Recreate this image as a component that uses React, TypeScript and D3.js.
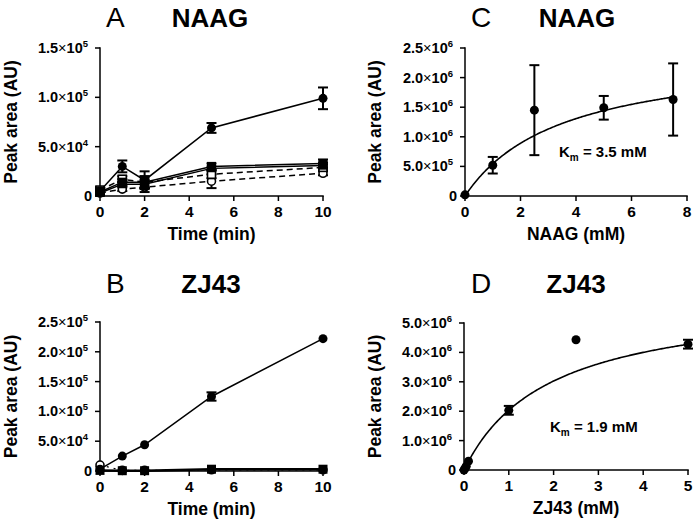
import React from 'react';
import * as d3 from 'd3';

const FONT = "'Liberation Sans', Arial, Helvetica, sans-serif";

// Panel A (NAAG time course)
const timeA = [0, 1, 2, 5, 10];
const aFilledCircle = [5000, 30000, 16000, 69000, 99000];
const aFilledCircleErr = [3000, 6000, 9000, 5000, 11000];
const aFilledSquare = [4000, 14000, 14000, 30000, 33000];
const aFilledSquareErr = [3000, 3000, 6000, 3000, 4000];
const aFilledTriangle = [3000, 12000, 12000, 28000, 31000];
const aFilledTriangleErr = [2000, 2000, 4000, 2000, 3000];
const aOpenSquare = [6000, 17000, 14000, 22000, 29000];
const aOpenSquareErr = [3000, 3000, 6000, 4000, 3000];
const aOpenCircle = [3000, 7000, 9000, 15000, 23000];
const aOpenCircleErr = [2000, 2000, 5000, 7000, 2000];
const aYTicks = [0, 50000, 100000, 150000];
const timeTicks = [0, 2, 4, 6, 8, 10];

// Panel B (ZJ43 time course)
const timeB = [0, 1, 2, 5, 10];
const bFilledCircle = [3000, 25000, 44000, 125000, 222000];
const bFilledCircleErr = [0, 0, 0, 7000, 0];
const bFilledSquare = [1000, 500, 500, 3000, 3000];
const bOpenCircle = [10000, 1000, 1000, 2000, 2000];
const bYTicks = [0, 50000, 100000, 150000, 200000, 250000];

// Panel C (NAAG concentration)
const concC = [0, 1, 2.5, 5, 7.5];
const valC = [20000, 520000, 1450000, 1490000, 1630000];
const errC = [0, 140000, 760000, 200000, 610000];
const kmC = 3.5;
const vmaxC = 2450000;
const cXTicks = [0, 2, 4, 6, 8];
const cYTicks = [0, 500000, 1000000, 1500000, 2000000, 2500000];

// Panel D (ZJ43 concentration)
const concD = [0, 0.025, 0.05, 0.1, 1, 2.5, 5];
const valD = [0, 60000, 130000, 300000, 2030000, 4430000, 4280000];
const errD = [0, 0, 0, 0, 150000, 0, 150000];
const kmD = 1.9;
const vmaxD = 5900000;
const dXTicks = [0, 1, 2, 3, 4, 5];
const dYTicks = [0, 1000000, 2000000, 3000000, 4000000, 5000000];

type Series = {
  xs: number[];
  ys: number[];
  errs?: number[];
  marker: 'fc' | 'fs' | 'ft' | 'os' | 'oc';
  dash?: string;
  lw?: number;
};

function sciParts(v: number) {
  if (v === 0) return { m: '0', e: '' };
  const e = Math.floor(Math.log10(v) + 1e-9);
  const m = (v / Math.pow(10, e)).toFixed(1);
  return { m, e: String(e) };
}

function Marker({ type, cx, cy }: { type: string; cx: number; cy: number }) {
  if (type === 'fc') return <circle cx={cx} cy={cy} r={4.5} fill="#000" />;
  if (type === 'fs') return <rect x={cx - 4.5} y={cy - 4.5} width={9} height={9} fill="#000" />;
  if (type === 'ft')
    return <path d={`M${cx},${cy - 5}L${cx + 5},${cy + 4}L${cx - 5},${cy + 4}Z`} fill="#000" />;
  if (type === 'os')
    return <rect x={cx - 4} y={cy - 4} width={8} height={8} fill="#fff" stroke="#000" strokeWidth={1.6} />;
  return <circle cx={cx} cy={cy} r={4} fill="#fff" stroke="#000" strokeWidth={1.6} />;
}

type PanelProps = {
  letter: string;
  name: string;
  titleY: number;
  letterX: number;
  nameX: number;
  xRange: [number, number];
  yRange: [number, number];
  xDomain: [number, number];
  yDomain: [number, number];
  xTicks: number[];
  yTicks: number[];
  xTitle: string;
  yTitleX: number;
  series: Series[];
  fit?: { km: number; vmax: number; xmax: number };
  km?: { x: number; y: number; text: string };
};

function Panel(p: PanelProps) {
  const x = d3.scaleLinear().domain(p.xDomain).range(p.xRange);
  const y = d3.scaleLinear().domain(p.yDomain).range(p.yRange);
  const x0 = p.xRange[0];
  const y0 = p.yRange[0];
  const line = d3
    .line<[number, number]>()
    .x((d) => x(d[0]))
    .y((d) => y(d[1]));
  let fitPath = '';
  if (p.fit) {
    const f = p.fit;
    const pts: [number, number][] = d3
      .range(0, f.xmax + 1e-9, f.xmax / 200)
      .map((c) => [c, (f.vmax * c) / (f.km + c)]);
    fitPath = line(pts) || '';
  }
  const yMid = (p.yRange[0] + p.yRange[1]) / 2;
  return (
    <g fontFamily={FONT}>
      <text x={p.letterX} y={p.titleY} fontSize={28} fontWeight="normal">
        {p.letter}
      </text>
      <text x={p.nameX} y={p.titleY} fontSize={26} fontWeight="bold" textAnchor="middle">
        {p.name}
      </text>
      {/* axes */}
      <line x1={x0} x2={x0} y1={p.yRange[1] - 0.75} y2={y0 + 0.75} stroke="#000" strokeWidth={1.5} />
      <line x1={x0 - 0.75} x2={p.xRange[1] + 0.75} y1={y0} y2={y0} stroke="#000" strokeWidth={1.5} />
      {p.yTicks.map((t) => {
        const s = sciParts(t);
        return (
          <g key={'y' + t}>
            <line x1={x0 - 5} x2={x0} y1={y(t)} y2={y(t)} stroke="#000" strokeWidth={1.5} />
            <text
              x={s.e === '' ? x0 - 8 : x0 - 12}
              y={y(t) + 5}
              fontSize={14.5}
              fontWeight="bold"
              textAnchor="end"
            >
              {s.e === '' ? (
                s.m
              ) : (
                <>
                  {s.m}
                  <tspan fontWeight="normal">×</tspan>
                  10
                  <tspan dy={-6} fontSize={9.5}>
                    {s.e}
                  </tspan>
                </>
              )}
            </text>
          </g>
        );
      })}
      {p.xTicks.map((t) => (
        <g key={'x' + t}>
          <line x1={x(t)} x2={x(t)} y1={y0} y2={y0 + 5} stroke="#000" strokeWidth={1.5} />
          <text x={x(t)} y={y0 + 21} fontSize={15.5} fontWeight="bold" textAnchor="middle">
            {t}
          </text>
        </g>
      ))}
      <text
        x={(p.xRange[0] + p.xRange[1]) / 2}
        y={y0 + 44}
        fontSize={17.5}
        fontWeight="bold"
        textAnchor="middle"
      >
        {p.xTitle}
      </text>
      <text
        transform={`translate(${p.yTitleX},${yMid}) rotate(-90)`}
        fontSize={17.5}
        fontWeight="bold"
        textAnchor="middle"
      >
        Peak area (AU)
      </text>
      {fitPath && <path d={fitPath} fill="none" stroke="#000" strokeWidth={1.6} />}
      {p.series.map((s, i) => {
        const pts: [number, number][] = s.xs.map((xx, j) => [xx, s.ys[j]]);
        return (
          <g key={'s' + i}>
            {!p.fit && (
              <path
                d={line(pts) || ''}
                fill="none"
                stroke="#000"
                strokeWidth={s.lw ?? 1.5}
                strokeDasharray={s.dash}
              />
            )}
            {s.errs &&
              s.xs.map((xx, j) => {
                const e = s.errs![j];
                if (!e) return null;
                const cx = x(xx);
                const top = y(s.ys[j] + e);
                const bot = y(Math.max(0, s.ys[j] - e));
                return (
                  <g key={'e' + j} stroke="#000" strokeWidth={2}>
                    <line x1={cx} x2={cx} y1={top} y2={bot} />
                    <line x1={cx - 5} x2={cx + 5} y1={top} y2={top} />
                    <line x1={cx - 5} x2={cx + 5} y1={bot} y2={bot} />
                  </g>
                );
              })}
            {pts.map((d, j) => (
              <Marker key={'m' + j} type={s.marker} cx={x(d[0])} cy={y(d[1])} />
            ))}
          </g>
        );
      })}
      {p.km && (
        <text x={p.km.x} y={p.km.y} fontSize={15} fontWeight="bold">
          K
          <tspan dy={4} fontSize={10}>
            m
          </tspan>
          <tspan dy={-4}>{p.km.text}</tspan>
        </text>
      )}
    </g>
  );
}

export default function App() {
  const seriesA: Series[] = [
    { xs: timeA, ys: aOpenCircle, errs: aOpenCircleErr, marker: 'oc', dash: '6,4' },
    { xs: timeA, ys: aOpenSquare, errs: aOpenSquareErr, marker: 'os', dash: '6,4' },
    { xs: timeA, ys: aFilledTriangle, errs: aFilledTriangleErr, marker: 'ft' },
    { xs: timeA, ys: aFilledSquare, errs: aFilledSquareErr, marker: 'fs' },
    { xs: timeA, ys: aFilledCircle, errs: aFilledCircleErr, marker: 'fc' },
  ];
  const seriesB: Series[] = [
    { xs: timeB, ys: bOpenCircle, marker: 'oc', dash: '2,5', lw: 1.2 },
    { xs: timeB, ys: bFilledSquare, marker: 'fs', lw: 2.5 },
    { xs: timeB, ys: bFilledCircle, errs: bFilledCircleErr, marker: 'fc' },
  ];
  const seriesC: Series[] = [{ xs: concC, ys: valC, errs: errC, marker: 'fc' }];
  const seriesD: Series[] = [{ xs: concD, ys: valD, errs: errD, marker: 'fc' }];

  return (
    <svg
      width={693}
      height={522}
      style={{ position: 'absolute', left: 0, top: 0, background: '#fff' }}
    >
      <rect width={693} height={522} fill="#fff" />
      <Panel
        letter="A"
        name="NAAG"
        titleY={27}
        letterX={106}
        nameX={210}
        xRange={[100, 323]}
        yRange={[196, 48]}
        xDomain={[0, 10]}
        yDomain={[0, 150000]}
        xTicks={timeTicks}
        yTicks={aYTicks}
        xTitle="Time (min)"
        yTitleX={17}
        series={seriesA}
      />
      <Panel
        letter="B"
        name="ZJ43"
        titleY={293}
        letterX={106}
        nameX={211}
        xRange={[100, 323]}
        yRange={[471, 322]}
        xDomain={[0, 10]}
        yDomain={[0, 250000]}
        xTicks={timeTicks}
        yTicks={bYTicks}
        xTitle="Time (min)"
        yTitleX={17}
        series={seriesB}
      />
      <Panel
        letter="C"
        name="NAAG"
        titleY={27}
        letterX={471}
        nameX={577}
        xRange={[465, 687]}
        yRange={[196, 48]}
        xDomain={[0, 8]}
        yDomain={[0, 2500000]}
        xTicks={cXTicks}
        yTicks={cYTicks}
        xTitle="NAAG (mM)"
        yTitleX={381}
        series={seriesC}
        fit={{ km: kmC, vmax: vmaxC, xmax: 7.5 }}
        km={{ x: 559, y: 157, text: ' = 3.5 mM' }}
      />
      <Panel
        letter="D"
        name="ZJ43"
        titleY={293}
        letterX={471}
        nameX={576}
        xRange={[464, 688]}
        yRange={[470, 323]}
        xDomain={[0, 5]}
        yDomain={[0, 5000000]}
        xTicks={dXTicks}
        yTicks={dYTicks}
        xTitle="ZJ43 (mM)"
        yTitleX={381}
        series={seriesD}
        fit={{ km: kmD, vmax: vmaxD, xmax: 5 }}
        km={{ x: 550, y: 432, text: ' = 1.9 mM' }}
      />
    </svg>
  );
}
